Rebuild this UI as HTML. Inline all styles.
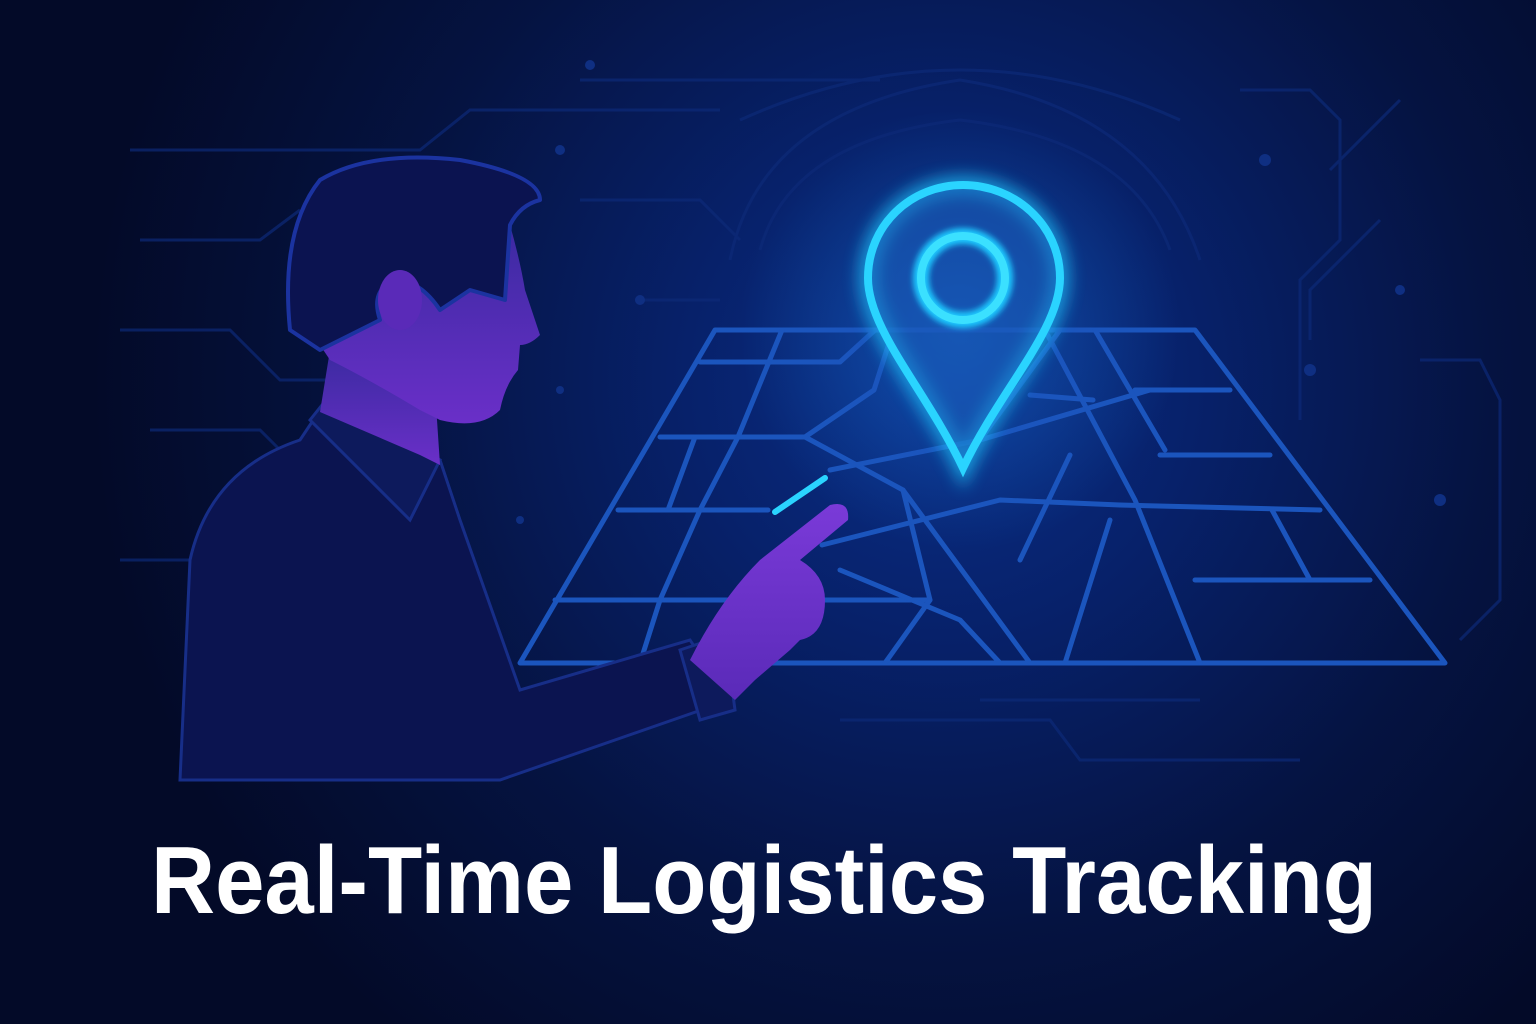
<!DOCTYPE html>
<html><head><meta charset="utf-8"><style>
html,body{margin:0;padding:0;background:#050d33;}
svg{display:block}
</style></head><body>
<svg width="1536" height="1024" viewBox="0 0 1536 1024" xmlns="http://www.w3.org/2000/svg">
<defs>
<radialGradient id="bg" cx="940" cy="380" r="850" gradientUnits="userSpaceOnUse">
<stop offset="0" stop-color="#0a2f88"/>
<stop offset="0.3" stop-color="#07216a"/>
<stop offset="0.65" stop-color="#051341"/>
<stop offset="1" stop-color="#030a28"/>
</radialGradient>
<radialGradient id="glow" cx="960" cy="330" r="220" gradientUnits="userSpaceOnUse">
<stop offset="0" stop-color="#1a7ae0" stop-opacity="0.45"/>
<stop offset="1" stop-color="#1a7ae0" stop-opacity="0"/>
</radialGradient>
<linearGradient id="face" x1="0" y1="0" x2="0" y2="1">
<stop offset="0" stop-color="#3a2aa0"/>
<stop offset="1" stop-color="#6a2fc8"/>
</linearGradient>
<linearGradient id="hand" x1="0" y1="0" x2="0" y2="1">
<stop offset="0" stop-color="#7a3ad8"/>
<stop offset="1" stop-color="#5a2ab8"/>
</linearGradient>
<filter id="blur" x="-50%" y="-50%" width="200%" height="200%"><feGaussianBlur stdDeviation="8"/></filter>
<filter id="blur2" x="-50%" y="-50%" width="200%" height="200%"><feGaussianBlur stdDeviation="3"/></filter>
</defs>
<rect width="1536" height="1024" fill="url(#bg)"/>
<rect width="1536" height="1024" fill="url(#glow)"/>
<g stroke="#0d2a78" stroke-width="3" fill="none" opacity="0.7">
<path d="M130 150 H420 L470 110 H720"/>
<path d="M580 80 H880"/>
<path d="M140 240 H260 L300 210"/>
<path d="M120 330 H230 L280 380 H330"/>
<path d="M150 430 H260 L300 470"/>
<path d="M120 560 H200"/>
<path d="M580 200 H700 L740 240"/>
<path d="M640 300 H720"/>
<path d="M1240 90 H1310 L1340 120 V240 L1300 280 V420"/>
<path d="M1400 100 L1330 170"/>
<path d="M1380 220 L1310 290 V340"/>
<path d="M1420 360 H1480 L1500 400 V600 L1460 640"/>
<path d="M840 720 H1050 L1080 760 H1300"/>
<path d="M980 700 H1200"/>
<path d="M740 120 Q960 20 1180 120" />
<path d="M730 260 Q760 110 960 80 Q1150 110 1200 260"/>
<path d="M760 250 Q790 140 960 120 Q1130 140 1170 250"/>
</g>
<g fill="#0f2f82">
<circle cx="590" cy="65" r="5"/><circle cx="560" cy="150" r="5"/><circle cx="640" cy="300" r="5"/><circle cx="1265" cy="160" r="6"/><circle cx="1310" cy="370" r="6"/><circle cx="1400" cy="290" r="5"/><circle cx="560" cy="390" r="4"/><circle cx="520" cy="520" r="4"/><circle cx="1440" cy="500" r="6"/>
</g>
<g stroke="#1b55bd" stroke-width="5" fill="none" stroke-linejoin="round" stroke-linecap="round">
<path d="M520 663 H1445 L1195 330 H715 Z"/>
<path d="M700 362 H840 L875 330"/>
<path d="M660 437 H805"/>
<path d="M618 510 H768"/>
<path d="M555 600 H770"/>
<path d="M780 600 H930"/>
<path d="M782 330 L738 437 L700 510 L660 600 L640 663"/>
<path d="M695 437 L668 510"/>
<path d="M805 437 L903 490 L930 600 L885 663"/>
<path d="M805 437 L874 390 L890 340"/>
<path d="M830 470 L980 440 L1150 390"/>
<path d="M822 545 L1000 500 L1120 505"/>
<path d="M903 490 L1030 663"/>
<path d="M1045 330 L1135 500 L1200 663"/>
<path d="M1095 330 L1165 450"/>
<path d="M1110 520 L1065 663"/>
<path d="M1070 455 L1020 560"/>
<path d="M1030 395 L1093 400"/>
<path d="M1135 390 L1230 390"/>
<path d="M1160 455 H1270"/>
<path d="M1120 505 L1320 510"/>
<path d="M1195 580 H1370"/>
<path d="M1272 510 L1310 580"/>
<path d="M980 440 L1060 330"/>
<path d="M840 570 L960 620 L1000 663"/>
</g>
<g>
<path d="M963 185 C1015 185 1060 225 1060 278 C1060 330 1000 390 963 468 C926 390 868 330 868 278 C868 225 911 185 963 185 Z" fill="#1864c8" fill-opacity="0.3" stroke="#1cc8ff" stroke-width="18" filter="url(#blur)" opacity="0.7"/>
<path d="M963 185 C1015 185 1060 225 1060 278 C1060 330 1000 390 963 468 C926 390 868 330 868 278 C868 225 911 185 963 185 Z" fill="#1a5ab8" fill-opacity="0.45" stroke="#2ad4ff" stroke-width="8"/>
<circle cx="963" cy="278" r="42" fill="none" stroke="#1cc8ff" stroke-width="16" filter="url(#blur2)"/>
<circle cx="963" cy="278" r="42" fill="none" stroke="#3be0ff" stroke-width="8"/>
</g>
<path d="M180 780 L190 560 Q210 470 300 440 L320 410 L440 460 L460 520 L520 690 L690 640 L730 700 L500 780 Z" fill="#0b1450" stroke="#172e88" stroke-width="3"/>
<path d="M310 420 L330 395 L440 460 L410 520 Z" fill="#0d1a5c" stroke="#172e88" stroke-width="3"/>
<path d="M680 650 L725 635 L735 710 L700 720 Z" fill="#0d1a5c" stroke="#172e88" stroke-width="3"/>
<path d="M690 660 Q720 600 760 560 L830 505 Q850 500 848 520 L800 560 Q825 575 825 600 Q825 635 800 640 L790 650 L755 680 L735 700 Z" fill="url(#hand)"/>
<path d="M775 512 L825 478" stroke="#2ad4ff" stroke-width="6" stroke-linecap="round"/>
<path d="M330 350 L320 412 L420 455 L440 465 L435 390 Z" fill="url(#face)"/>
<path d="M310 330 Q300 260 330 220 L510 225 Q520 260 525 290 L540 335 Q530 345 520 345 L518 370 Q505 385 500 410 Q480 430 440 420 L420 410 Q370 380 330 360 Z" fill="url(#face)"/>
<path d="M290 330 Q280 230 320 180 Q370 150 460 160 Q540 175 540 200 Q520 205 510 225 L505 300 L470 290 L440 310 Q420 280 395 280 Q370 290 380 320 L320 350 Z" fill="#0b1350" stroke="#1b33a0" stroke-width="4" stroke-linejoin="round"/>
<ellipse cx="400" cy="300" rx="22" ry="30" fill="#5a2ab8"/>
<text x="764" y="913" text-anchor="middle" font-family="Liberation Sans, sans-serif" font-weight="600" font-size="96" fill="#ffffff" textLength="1226" lengthAdjust="spacingAndGlyphs">Real-Time Logistics Tracking</text>
</svg>
</body></html>
